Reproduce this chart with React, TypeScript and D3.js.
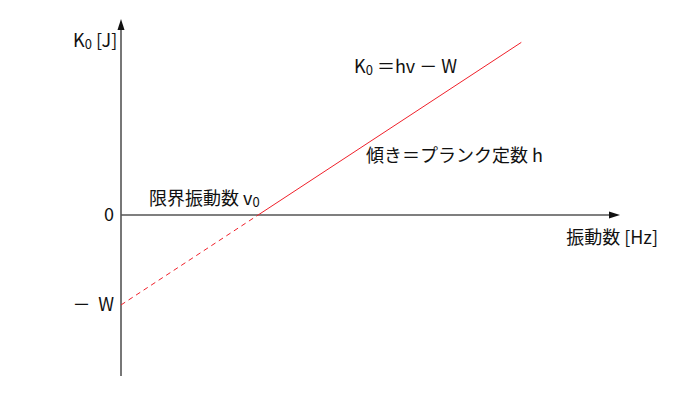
import * as d3 from "d3";

// frequency in units of the threshold frequency, energy in units of W
const dashedNu = [0, 1];
const dashedK = [-1, 0];
const solidNu = [1, 2.92];
const solidK = [0, 1.92];

const yTickValues = [0, -1];
const yTickLabels = ["0", "－ \u2009W"];

const WIDTH = 700;
const HEIGHT = 400;
const FONT = "'Noto Sans CJK JP', 'Noto Sans', sans-serif";
const AXIS = "#555";
const RED = "#f0202a";

export default function App() {
  const x = d3.scaleLinear().domain([0, 3.64]).range([121, 620]);
  const y = d3.scaleLinear().domain([-1.79, 2.18]).range([376, 19]);

  const line = d3
    .line<[number, number]>()
    .x((d) => x(d[0]))
    .y((d) => y(d[1]));

  const dashedPts = dashedNu.map((n, i) => [n, dashedK[i]] as [number, number]);
  const solidPts = solidNu.map((n, i) => [n, solidK[i]] as [number, number]);

  const x0 = x(0);
  const y0 = y(0);
  const yTop = y.range()[1];
  const yBottom = y.range()[0];
  const xRight = x.range()[1];

  return (
    <svg
      width={WIDTH}
      height={HEIGHT}
      style={{ position: "absolute", left: 0, top: 0, background: "#fff" }}
      fontFamily={FONT}
      fontSize={18}
    >
      {/* axes */}
      <line x1={x0} x2={x0} y1={yBottom} y2={yTop + 9} stroke={AXIS} strokeWidth={1.6} />
      <path d={`M${x0},${yTop} L${x0 - 3.5},${yTop + 11} L${x0 + 3.5},${yTop + 11} Z`} fill="#111" />
      <line x1={x0} x2={xRight - 9} y1={y0} y2={y0} stroke={AXIS} strokeWidth={1.6} />
      <path d={`M${xRight},${y0} L${xRight - 11},${y0 - 3.5} L${xRight - 11},${y0 + 3.5} Z`} fill="#111" />

      {/* K0 = hν - W */}
      <path d={line(dashedPts) ?? ""} fill="none" stroke={RED} strokeWidth={1} strokeDasharray="5,4" />
      <path d={line(solidPts) ?? ""} fill="none" stroke={RED} strokeWidth={1} />

      {/* y tick labels */}
      {yTickValues.map((v, i) => (
        <text key={i} x={x0 - 7} y={y(v)} dy="0.35em" textAnchor="end" fill="#111">
          {yTickLabels[i]}
        </text>
      ))}

      {/* axis titles */}
      <text x={73} y={47} fill="#111">
        K<tspan fontSize={13} dy={2}>0</tspan>
        <tspan dy={-2}> [J]</tspan>
      </text>
      <text x={658} y={244} textAnchor="end" fill="#111">
        振動数 [Hz]
      </text>

      {/* annotations */}
      <text x={149} y={205} fill="#111">
        限界振動数 v<tspan fontSize={13} dy={2}>0</tspan>
      </text>
      <text x={354} y={73} fill="#111">
        K<tspan fontSize={13} dy={2}>0</tspan>
        <tspan dy={-2}> ＝hv － W</tspan>
      </text>
      <text x={366} y={162} fill="#111">
        傾き＝プランク定数 h
      </text>
    </svg>
  );
}
